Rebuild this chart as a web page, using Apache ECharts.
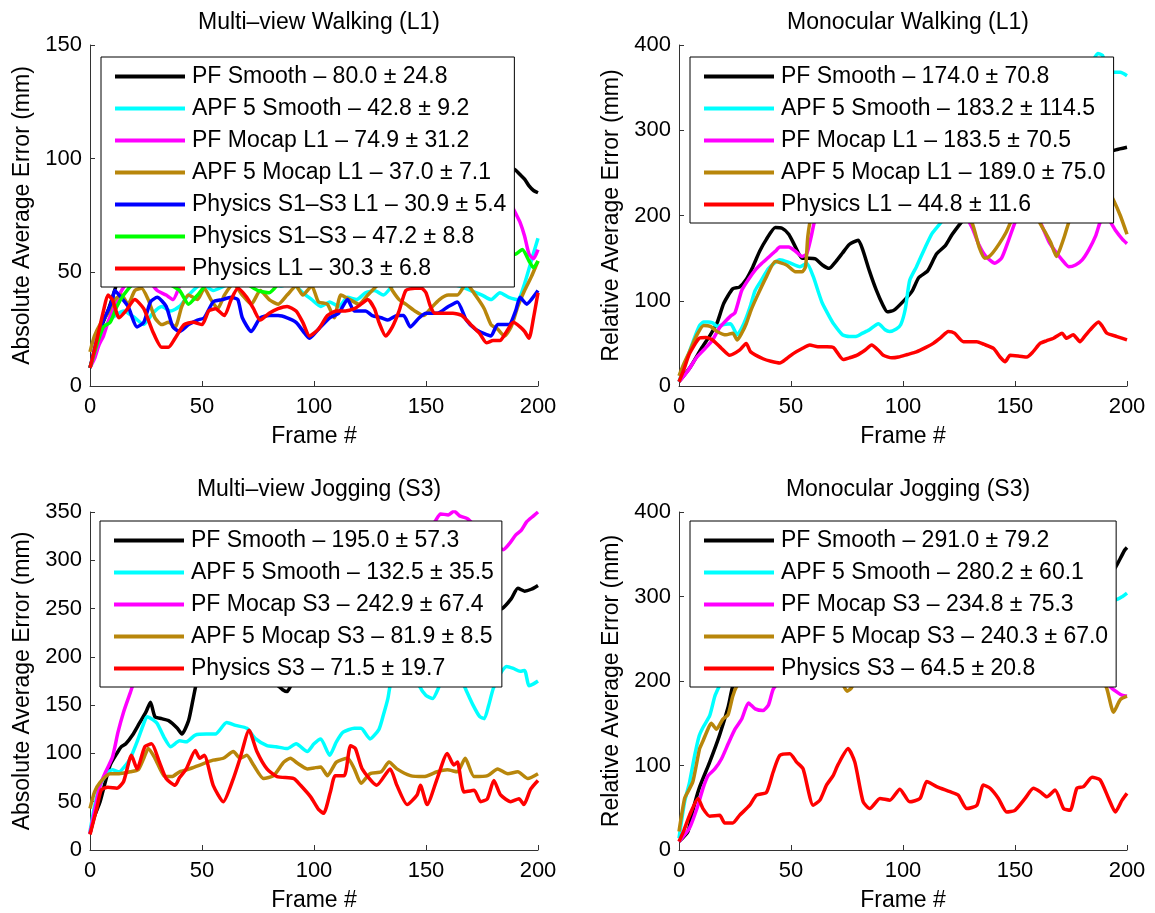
<!DOCTYPE html>
<html>
<head>
<meta charset="utf-8">
<script src="https://cdn.jsdelivr.net/npm/echarts@6/dist/echarts.min.js"></script>
<style>
  html, body { margin: 0; padding: 0; background: #fff; }
  #chart { width: 1155px; height: 913px; }
</style>
</head>
<body>
<div id="chart"></div>
<script>
// ---------- Multi-view Walking (L1): [frame, error mm] ----------
const mvWalkPfSmooth = [[0,8],[3,18],[5,26],[8,33],[11,42],[15,55],[20,65],[25,70],[30,72],[35,76],[40,78],[45,82],[50,85],[55,86],[60,88],[65,89],[70,90],[75,91],[80,92],[85,94],[90,95],[95,95],[100,96],[105,97],[110,98],[115,99],[120,100],[125,101],[130,102],[135,101],[140,100],[145,99],[150,98],[155,100],[160,102],[165,101],[170,100],[175,99],[180,98],[185,97],[188,96],[190,95],[192,93],[194,91],[196,88],[198,86],[200,85]];
const mvWalkApfSmooth = [[0,8],[3,18],[6,25],[10,30],[15,33],[20,30],[24,27],[28,32],[32,35],[36,33],[40,35],[44,40],[50,45],[55,42],[60,44],[65,46],[70,45],[75,47],[80,46],[85,44],[90,45],[95,41],[99,38],[103,35],[107,37],[111,35],[115,39],[119,38],[123,41],[127,42],[131,40],[135,44],[140,47],[145,46],[150,48],[155,46],[160,45],[165,44],[170,42],[175,40],[179,38],[183,41],[187,39],[191,38],[194,45],[197,55],[200,65]];
const mvWalkPfMocap = [[0,8],[2,12],[4,18],[6,22],[8,28],[10,33],[13,40],[16,45],[20,50],[25,48],[30,42],[34,40],[37,38],[40,44],[45,55],[50,62],[60,70],[70,78],[80,82],[90,85],[100,88],[110,90],[120,92],[130,95],[140,96],[150,98],[160,97],[170,95],[180,92],[185,88],[188,80],[190,76],[192,72],[194,66],[196,58],[198,56],[200,60]];
const mvWalkApfMocap = [[0,15],[2,22],[5,28],[8,32],[11,38],[14,40],[17,36],[20,42],[23,43],[26,38],[29,30],[32,27],[35,28],[38,26],[41,35],[44,40],[48,38],[51,43],[54,38],[57,34],[60,40],[64,45],[68,40],[72,36],[76,42],[80,38],[84,36],[88,40],[92,44],[95,40],[99,44],[102,37],[106,36],[109,30],[112,40],[116,38],[120,36],[124,40],[128,44],[132,47],[135,42],[138,38],[141,36],[145,33],[149,31],[152,34],[156,38],[160,40],[164,40],[168,45],[172,40],[176,34],[179,27],[182,25],[185,22],[188,26],[191,35],[194,42],[197,48],[200,55]];
const mvWalkPhysS1S3L1 = [[0,8],[3,20],[6,29],[8,33],[10,38],[11,42],[13,40],[17,35],[21,26],[24,28],[27,37],[30,39],[34,35],[37,26],[40,24],[44,27],[48,29],[51,30],[55,37],[59,38],[63,39],[66,38],[68,30],[72,24],[76,30],[80,31],[84,31],[88,30],[92,28],[96,23],[98,21],[102,25],[107,30],[111,32],[115,38],[118,33],[123,33],[126,31],[130,30],[133,29],[137,31],[140,31],[143,26],[147,30],[150,32],[155,32],[160,35],[164,37],[168,29],[172,25],[176,23],[179,22],[182,27],[187,27],[190,33],[192,39],[195,36],[197,38],[200,42]];
const mvWalkPhysS1S3 = [[0,8],[3,18],[6,26],[9,28],[12,35],[15,40],[20,46],[25,50],[30,48],[35,45],[40,42],[44,36],[48,40],[52,45],[56,50],[60,52],[65,48],[70,45],[75,42],[80,41],[85,46],[90,50],[95,48],[100,52],[105,50],[110,48],[115,52],[120,47],[124,45],[130,50],[135,52],[140,55],[145,50],[150,48],[155,52],[160,55],[165,53],[170,50],[175,52],[180,55],[185,57],[190,58],[193,60],[196,55],[198,52],[200,55]];
const mvWalkPhysL1 = [[0,8],[3,20],[6,33],[8,40],[10,38],[13,30],[16,33],[20,38],[24,34],[28,24],[32,17],[35,17],[38,21],[42,27],[46,28],[50,27],[53,33],[56,34],[60,31],[63,38],[66,43],[70,39],[73,34],[76,29],[80,32],[84,34],[88,35],[92,33],[95,28],[98,22],[102,25],[106,31],[110,33],[114,33],[118,34],[121,36],[124,38],[127,34],[129,28],[132,22],[135,26],[138,33],[141,42],[145,43],[148,43],[150,41],[152,35],[154,32],[158,32],[162,32],[166,31],[170,27],[174,23],[177,19],[180,20],[183,20],[186,24],[189,28],[192,26],[194,24],[196,21],[198,30],[200,41]];
const mvWalkNames = ['PF Smooth', 'APF 5 Smooth', 'PF Mocap L1', 'APF 5 Mocap L1', 'Physics S1–S3 L1', 'Physics S1–S3', 'Physics L1'];
const mvWalkMeans = [80.0, 42.8, 74.9, 37.0, 30.9, 47.2, 30.3];
const mvWalkStds  = [24.8, 9.2, 31.2, 7.1, 5.4, 8.8, 6.8];

// ---------- Monocular Walking (L1) ----------
const monoWalkPfSmooth = [[0,5],[5,22],[10,44],[14,60],[17,74],[20,97],[24,114],[27,116],[30,125],[33,140],[36,158],[39,172],[43,186],[46,185],[49,178],[52,163],[55,150],[58,150],[61,149],[64,142],[67,138],[70,146],[73,156],[76,166],[80,171],[82,160],[85,135],[88,113],[91,95],[93,87],[96,89],[100,99],[104,111],[107,127],[111,135],[115,155],[119,165],[122,178],[126,192],[130,205],[135,215],[140,225],[145,232],[150,238],[155,242],[160,248],[165,252],[170,256],[175,260],[180,265],[185,268],[190,273],[195,277],[200,280]];
const monoWalkApfSmooth = [[0,5],[3,28],[6,50],[9,70],[11,75],[13,75],[15,74],[17,70],[20,72],[23,73],[26,60],[28,68],[30,80],[32,95],[34,112],[37,125],[40,138],[45,148],[49,145],[54,140],[57,144],[60,128],[62,112],[64,97],[67,82],[69,73],[73,60],[76,58],[79,58],[82,62],[85,66],[89,73],[92,66],[94,64],[97,67],[99,72],[101,90],[103,124],[106,140],[110,163],[113,179],[117,192],[120,205],[125,225],[130,245],[135,265],[140,285],[145,300],[150,315],[155,325],[160,335],[165,345],[170,352],[175,360],[180,368],[184,378],[187,390],[189,388],[191,372],[194,368],[197,368],[200,364]];
const monoWalkPfMocap = [[0,5],[4,18],[8,34],[12,45],[15,54],[18,68],[20,74],[23,82],[25,86],[28,112],[31,125],[34,136],[37,144],[40,151],[43,158],[45,163],[49,163],[52,158],[55,152],[57,155],[59,175],[61,198],[65,215],[70,228],[75,240],[80,248],[85,255],[90,258],[95,262],[100,258],[105,252],[110,248],[115,240],[120,228],[125,215],[128,200],[131,185],[134,165],[137,152],[141,144],[144,150],[147,170],[150,192],[153,210],[156,215],[159,205],[162,188],[165,170],[168,158],[171,148],[174,140],[177,142],[180,148],[183,160],[186,176],[188,192],[190,200],[192,195],[195,182],[198,172],[200,167]];
const monoWalkApfMocap = [[0,12],[2,25],[5,42],[8,60],[11,71],[14,70],[17,64],[21,60],[24,62],[26,54],[28,62],[30,73],[32,88],[35,106],[39,128],[43,146],[48,142],[52,134],[55,134],[56.5,140],[57.5,175],[59,198],[62,210],[66,222],[70,232],[75,240],[80,248],[85,255],[90,260],[95,262],[100,258],[105,250],[110,245],[115,238],[120,228],[124,215],[128,200],[131,190],[134,163],[136.5,150],[138,151],[140,156],[143,167],[146,180],[148,192],[151,210],[155,225],[158,215],[161,192],[164,178],[166,168],[168.5,152],[170,160],[172,175],[174,192],[177,210],[180,225],[184,235],[188,240],[191,232],[194,218],[197,200],[200,178]];
const monoWalkPhysL1 = [[0,5],[2,18],[4.7,38],[9,56],[12,57],[15,54],[19,44],[22.6,36],[27,42],[30,50],[32,40],[37.5,32],[41,29],[45,27],[48,32],[51,38],[55,44],[58.4,48],[62,46],[66,46],[69,45],[73.3,31],[76,33],[79.3,36],[83,42],[86,48],[89,42],[91.2,36],[95,33],[98,34],[102,37],[106,40],[110,45],[113.5,50],[117,57],[120.2,64],[123,62],[127,52],[133,52],[136,49],[140.4,44],[143.3,34],[145.6,28.5],[147.8,36],[152,35],[155.3,34],[158,40],[161.2,50],[164,53],[167.2,56],[169,59],[171,62],[173,56],[176,60],[179,52],[181,58],[183.6,66],[187.3,75],[189,70],[191,62],[195.5,58],[200,54]];
const monoWalkNames = ['PF Smooth', 'APF 5 Smooth', 'PF Mocap L1', 'APF 5 Mocap L1', 'Physics L1'];
const monoWalkMeans = [174.0, 183.2, 183.5, 189.0, 44.8];
const monoWalkStds  = [70.8, 114.5, 70.5, 75.0, 11.6];

// ---------- Multi-view Jogging (S3) ----------
const mvJogPfSmooth = [[0,17],[2,35],[4.5,50],[7,72],[9,88],[12,100],[14,107],[16,110],[19,119],[22,131],[25,143],[27,153],[29,138],[32,136],[35,134],[39,126],[41,120],[44,134],[46,156],[48,177],[50,180],[53,182],[56,178],[60,176],[63,172],[66,173],[69,180],[72,190],[75,188],[78,182],[81,176],[84,170],[86,166],[88,164],[90,172],[93,188],[96,200],[100,210],[105,215],[110,218],[115,222],[120,225],[125,228],[130,232],[135,236],[140,240],[145,238],[150,235],[155,240],[160,245],[165,242],[170,240],[175,245],[180,248],[184,250],[188,260],[191,271],[194,268],[197,270],[200,274]];
const mvJogApfSmooth = [[0,19],[2,45],[4.5,67],[7,77],[10,83],[13,81],[16,88],[18,95],[21,112],[24,131],[25.5,138],[28,135],[30,131],[33,117],[36,107],[40,113],[43,112],[47,119],[52,120],[56,120],[61,132],[65,129],[70,126],[74,115],[79,108],[83,107],[88,105],[92,110],[97,102],[100,110],[103,115],[107,98],[110,112],[113,122],[118,126],[121,126],[125,115],[129,125],[131,140],[133,157],[134,170],[136,180],[139,192],[142,195],[145,185],[147,170],[150,160],[153,157],[156,170],[159,185],[162,190],[165,180],[168,165],[171,150],[174,138],[176,136],[178,150],[180,167],[183,182],[186,190],[189,188],[192,185],[194,186],[196,170],[198,172],[200,175]];
const mvJogPfMocap = [[0,17],[2,40],[4.5,67],[7,81],[10,96],[12.5,122],[15,143],[18,163],[20,176],[23,185],[26,190],[30,192],[35,195],[40,198],[45,202],[50,206],[55,210],[60,214],[65,218],[70,222],[75,226],[80,230],[85,235],[90,240],[95,245],[100,250],[105,256],[110,262],[115,268],[120,275],[125,282],[130,290],[135,298],[140,308],[145,318],[150,330],[154,340],[156.5,348],[160,347],[162.5,351],[165,346],[168.5,343],[172,335],[176,325],[180,318],[184.5,311],[187.5,318],[190,326],[192.5,331],[195,340],[198,346],[200,350]];
const mvJogApfMocap = [[0,43],[2,60],[4.5,70],[9,79],[13,79],[18,81],[21.5,83],[24,95],[26,105],[29,95],[33,77],[36.5,76],[40,81],[44.5,84],[49,88],[55,93],[59.5,95],[64,102],[67,95],[70,98],[73,88],[77.5,74],[82,77],[86.5,91],[89.5,95],[92.5,90],[97,84],[100,85],[103,86],[106,77],[110,91],[115,95],[118,84],[121,69],[125,79],[130,81],[133.5,91],[137,84],[143,77],[149,76],[155,81],[159.5,83],[164,81],[167.5,95],[171.5,76],[177.5,77],[182,84],[186.5,79],[191,81],[195.5,74],[200,79]];
const mvJogPhysS3 = [[0,16],[3,43],[5,62],[8,65],[12,64],[15,71],[18.5,98],[21,84],[24.5,107],[27.5,110],[31,91],[34,74],[38,67],[40,75],[43,84],[47,103],[49,95],[51,98],[55,67],[59.5,50],[64,74],[67,95],[71,124],[74.5,102],[79,84],[83.5,76],[91,74],[94,67],[98.5,55],[102,42],[104.3,38],[107.3,60],[109.5,77],[113.5,77],[116.3,108],[118.5,105],[121.5,84],[128,67],[134,84],[137,67],[141.6,47],[146,57],[147.5,67],[150.5,47],[155,74],[159.5,100],[162.4,88],[164,91],[167,60],[171.5,62],[174.4,50],[177.4,53],[180.3,72],[183.3,57],[187.8,50],[191.5,53],[193.7,47],[196.7,63],[200,72]];
const mvJogNames = ['PF Smooth', 'APF 5 Smooth', 'PF Mocap S3', 'APF 5 Mocap S3', 'Physics S3'];
const mvJogMeans = [195.0, 132.5, 242.9, 81.9, 71.5];
const mvJogStds  = [57.3, 35.5, 67.4, 8.5, 19.7];

// ---------- Monocular Jogging (S3) ----------
const monoJogPfSmooth = [[0,10],[4,22],[6,45],[9,73],[13.7,104],[18,135],[22,170],[24,194],[27,210],[30,225],[34,240],[38,255],[42,268],[46,280],[50,290],[55,298],[60,305],[65,312],[70,318],[75,322],[80,326],[85,330],[90,333],[95,336],[100,338],[105,340],[110,340],[115,338],[120,336],[125,334],[130,330],[135,328],[140,325],[145,324],[150,322],[155,320],[160,320],[165,320],[170,322],[175,323],[180,324],[185,325],[190,326],[193,328],[195,335],[197,345],[199,355],[200,358]];
const monoJogApfSmooth = [[0,14],[2.5,57],[4.7,80],[7,112],[9,135],[10.7,145],[13.7,159],[16,182],[18,194],[20,205],[23,220],[26,235],[30,248],[35,260],[40,270],[45,278],[50,283],[55,288],[60,290],[65,292],[70,295],[80,298],[90,300],[100,302],[110,300],[120,298],[130,296],[140,295],[150,296],[160,298],[170,300],[180,302],[190,300],[195,296],[198,300],[200,304]];
const monoJogPfMocap = [[0,10],[4.7,26],[8.5,53],[10.7,73],[13,88],[16,96],[19,108],[22,126],[25,143],[28,155],[31,174],[34,167],[37.5,165],[40,172],[42,190],[45,200],[50,212],[55,222],[60,230],[65,238],[70,245],[75,250],[80,255],[85,258],[90,262],[95,265],[100,268],[105,265],[110,262],[115,260],[120,262],[125,265],[130,268],[135,270],[140,268],[145,265],[150,262],[155,258],[160,255],[165,250],[170,245],[175,238],[180,228],[185,215],[190,202],[193,192],[196,186],[198,183],[200,182]];
const monoJogApfMocap = [[0,22],[2.5,61],[4,69],[6.2,81],[9.2,120],[10.7,129],[12.9,143],[14.4,150],[16.7,143],[19.6,155],[21.9,160],[24,182],[26,195],[30,210],[35,225],[40,238],[45,248],[50,255],[55,258],[60,250],[65,235],[70,215],[73,197],[75,188],[77,192],[80,210],[85,235],[90,255],[95,268],[100,275],[105,280],[110,282],[115,280],[120,278],[125,275],[130,278],[135,282],[140,285],[145,282],[150,278],[155,272],[160,268],[165,262],[170,258],[175,250],[180,240],[185,225],[188,208],[191,191],[194,163],[197,178],[200,182]];
const monoJogPhysS3 = [[0,10],[2,22],[4.7,41],[8.5,61],[10.7,49],[13.7,40],[18.2,41],[20.4,32],[24,32],[27,41],[31.6,53],[34.6,65],[39,68],[42,92],[45,112],[49.5,114],[52.5,104],[55.4,96],[59.9,53],[62.9,59],[65.9,77],[68.8,88],[71,101],[75.5,120],[78.5,104],[82.2,57],[85.2,49],[89.7,61],[94.1,59],[98.6,72],[103,57],[107.6,61],[110.6,81],[115,75],[121,69],[124.6,65],[128.5,49],[133,53],[135.9,77],[138.9,73],[142.6,61],[146.3,45],[150,47],[154.5,61],[158.2,73],[161.2,69],[164.2,63],[167.9,71],[171.7,49],[174.6,47],[177.6,73],[180.6,75],[184.4,86],[188,83],[191.8,61],[194.8,45],[197.8,59],[200,67]];
const monoJogNames = ['PF Smooth', 'APF 5 Smooth', 'PF Mocap S3', 'APF 5 Mocap S3', 'Physics S3'];
const monoJogMeans = [291.0, 280.2, 234.8, 240.3, 64.5];
const monoJogStds  = [79.2, 60.1, 75.3, 67.0, 20.8];

// ---------- axis ticks ----------
const frameTicks = { min: 0, max: 200, step: 50 };

// ---------- styling ----------
const FONT = '"Liberation Sans", Arial, Helvetica, sans-serif';
const BLACK = '#000000', CYAN = '#00FFFF', MAGENTA = '#FF00FF', BROWN = '#B8860B',
      BLUE = '#0000FF', GREEN = '#00FF00', RED = '#FF0000';
const AXIS_COLOR = '#333333';

const panels = [
  {
    title: 'Multi–view Walking (L1)', yName: 'Absolute Average Error (mm)', yMax: 150, yStep: 50,
    grid: { left: 90, top: 45, width: 448, height: 341 }, legendAt: { left: 101, top: 57 },
    names: mvWalkNames, means: mvWalkMeans, stds: mvWalkStds,
    colors: [BLACK, CYAN, MAGENTA, BROWN, BLUE, GREEN, RED],
    series: [mvWalkPfSmooth, mvWalkApfSmooth, mvWalkPfMocap, mvWalkApfMocap, mvWalkPhysS1S3L1, mvWalkPhysS1S3, mvWalkPhysL1]
  },
  {
    title: 'Monocular Walking (L1)', yName: 'Relative Average Error (mm)', yMax: 400, yStep: 100,
    grid: { left: 679, top: 45, width: 448, height: 341 }, legendAt: { left: 690, top: 57 },
    names: monoWalkNames, means: monoWalkMeans, stds: monoWalkStds,
    colors: [BLACK, CYAN, MAGENTA, BROWN, RED],
    series: [monoWalkPfSmooth, monoWalkApfSmooth, monoWalkPfMocap, monoWalkApfMocap, monoWalkPhysL1]
  },
  {
    title: 'Multi–view Jogging (S3)', yName: 'Absolute Average Error (mm)', yMax: 350, yStep: 50,
    grid: { left: 90, top: 512, width: 448, height: 340 }, legendAt: { left: 100, top: 521 },
    names: mvJogNames, means: mvJogMeans, stds: mvJogStds,
    colors: [BLACK, CYAN, MAGENTA, BROWN, RED],
    series: [mvJogPfSmooth, mvJogApfSmooth, mvJogPfMocap, mvJogApfMocap, mvJogPhysS3]
  },
  {
    title: 'Monocular Jogging (S3)', yName: 'Relative Average Error (mm)', yMax: 400, yStep: 100,
    grid: { left: 679, top: 512, width: 448, height: 340 }, legendAt: { left: 690, top: 521 },
    names: monoJogNames, means: monoJogMeans, stds: monoJogStds,
    colors: [BLACK, CYAN, MAGENTA, BROWN, RED],
    series: [monoJogPfSmooth, monoJogApfSmooth, monoJogPfMocap, monoJogApfMocap, monoJogPhysS3]
  }
];

const label = (name, mean, sd) => `${name} – ${mean.toFixed(1)} ± ${sd.toFixed(1)}`;

const option = {
  animation: false,
  backgroundColor: '#ffffff',
  textStyle: { fontFamily: FONT },
  title: [], grid: [], xAxis: [], yAxis: [], legend: [], series: []
};

panels.forEach((p, i) => {
  option.title.push({
    text: p.title,
    left: p.grid.left + p.grid.width / 2,
    top: p.grid.top - 39,
    textAlign: 'center',
    textStyle: { fontSize: 23, fontWeight: 'normal', color: '#000', fontFamily: FONT }
  });
  option.grid.push(Object.assign({ containLabel: false }, p.grid));
  option.xAxis.push({
    type: 'value', gridIndex: i,
    min: frameTicks.min, max: frameTicks.max, interval: frameTicks.step,
    name: 'Frame #', nameLocation: 'middle', nameGap: 39,
    nameTextStyle: { fontSize: 23, color: '#000', fontFamily: FONT },
    axisLine: { show: true, onZero: false, lineStyle: { color: AXIS_COLOR, width: 1 } },
    axisTick: { show: true, inside: true, length: 5, lineStyle: { color: AXIS_COLOR } },
    axisLabel: { fontSize: 22, color: '#000', margin: 10, fontFamily: FONT },
    splitLine: { show: false }
  });
  option.yAxis.push({
    type: 'value', gridIndex: i,
    min: 0, max: p.yMax, interval: p.yStep,
    name: p.yName, nameLocation: 'middle', nameGap: 56, nameRotate: 90,
    nameTextStyle: { fontSize: 23, color: '#000', fontFamily: FONT },
    axisLine: { show: true, onZero: false, lineStyle: { color: AXIS_COLOR, width: 1 } },
    axisTick: { show: true, inside: true, length: 5, lineStyle: { color: AXIS_COLOR } },
    axisLabel: { fontSize: 22, color: '#000', margin: 8, fontFamily: FONT },
    splitLine: { show: false }
  });
  const names = p.names.map((n, k) => label(n, p.means[k], p.stds[k]));
  option.legend.push({
    data: names,
    orient: 'vertical',
    left: p.legendAt.left, top: p.legendAt.top,
    backgroundColor: '#ffffff',
    borderColor: '#000000', borderWidth: 1, borderRadius: 0,
    padding: [8, 8, 7, 14],
    itemGap: 9, itemWidth: 70, itemHeight: 4,
    icon: 'rect',
    selectedMode: false,
    textStyle: { fontSize: 23, lineHeight: 23, color: '#000', fontFamily: FONT, padding: [0, 0, 0, 2] },
    z: 10
  });
  p.series.forEach((data, k) => {
    option.series.push({
      type: 'line', name: names[k],
      xAxisIndex: i, yAxisIndex: i,
      data: data,
      showSymbol: false, symbol: 'none',
      smooth: 0.2,
      color: p.colors[k],
      itemStyle: { color: p.colors[k] },
      lineStyle: { color: p.colors[k], width: 3.5 },
      emphasis: { disabled: true },
      z: 2
    });
  });
});

const chart = echarts.init(document.getElementById('chart'), null, { renderer: 'canvas' });
chart.setOption(option);
</script>
</body>
</html>
